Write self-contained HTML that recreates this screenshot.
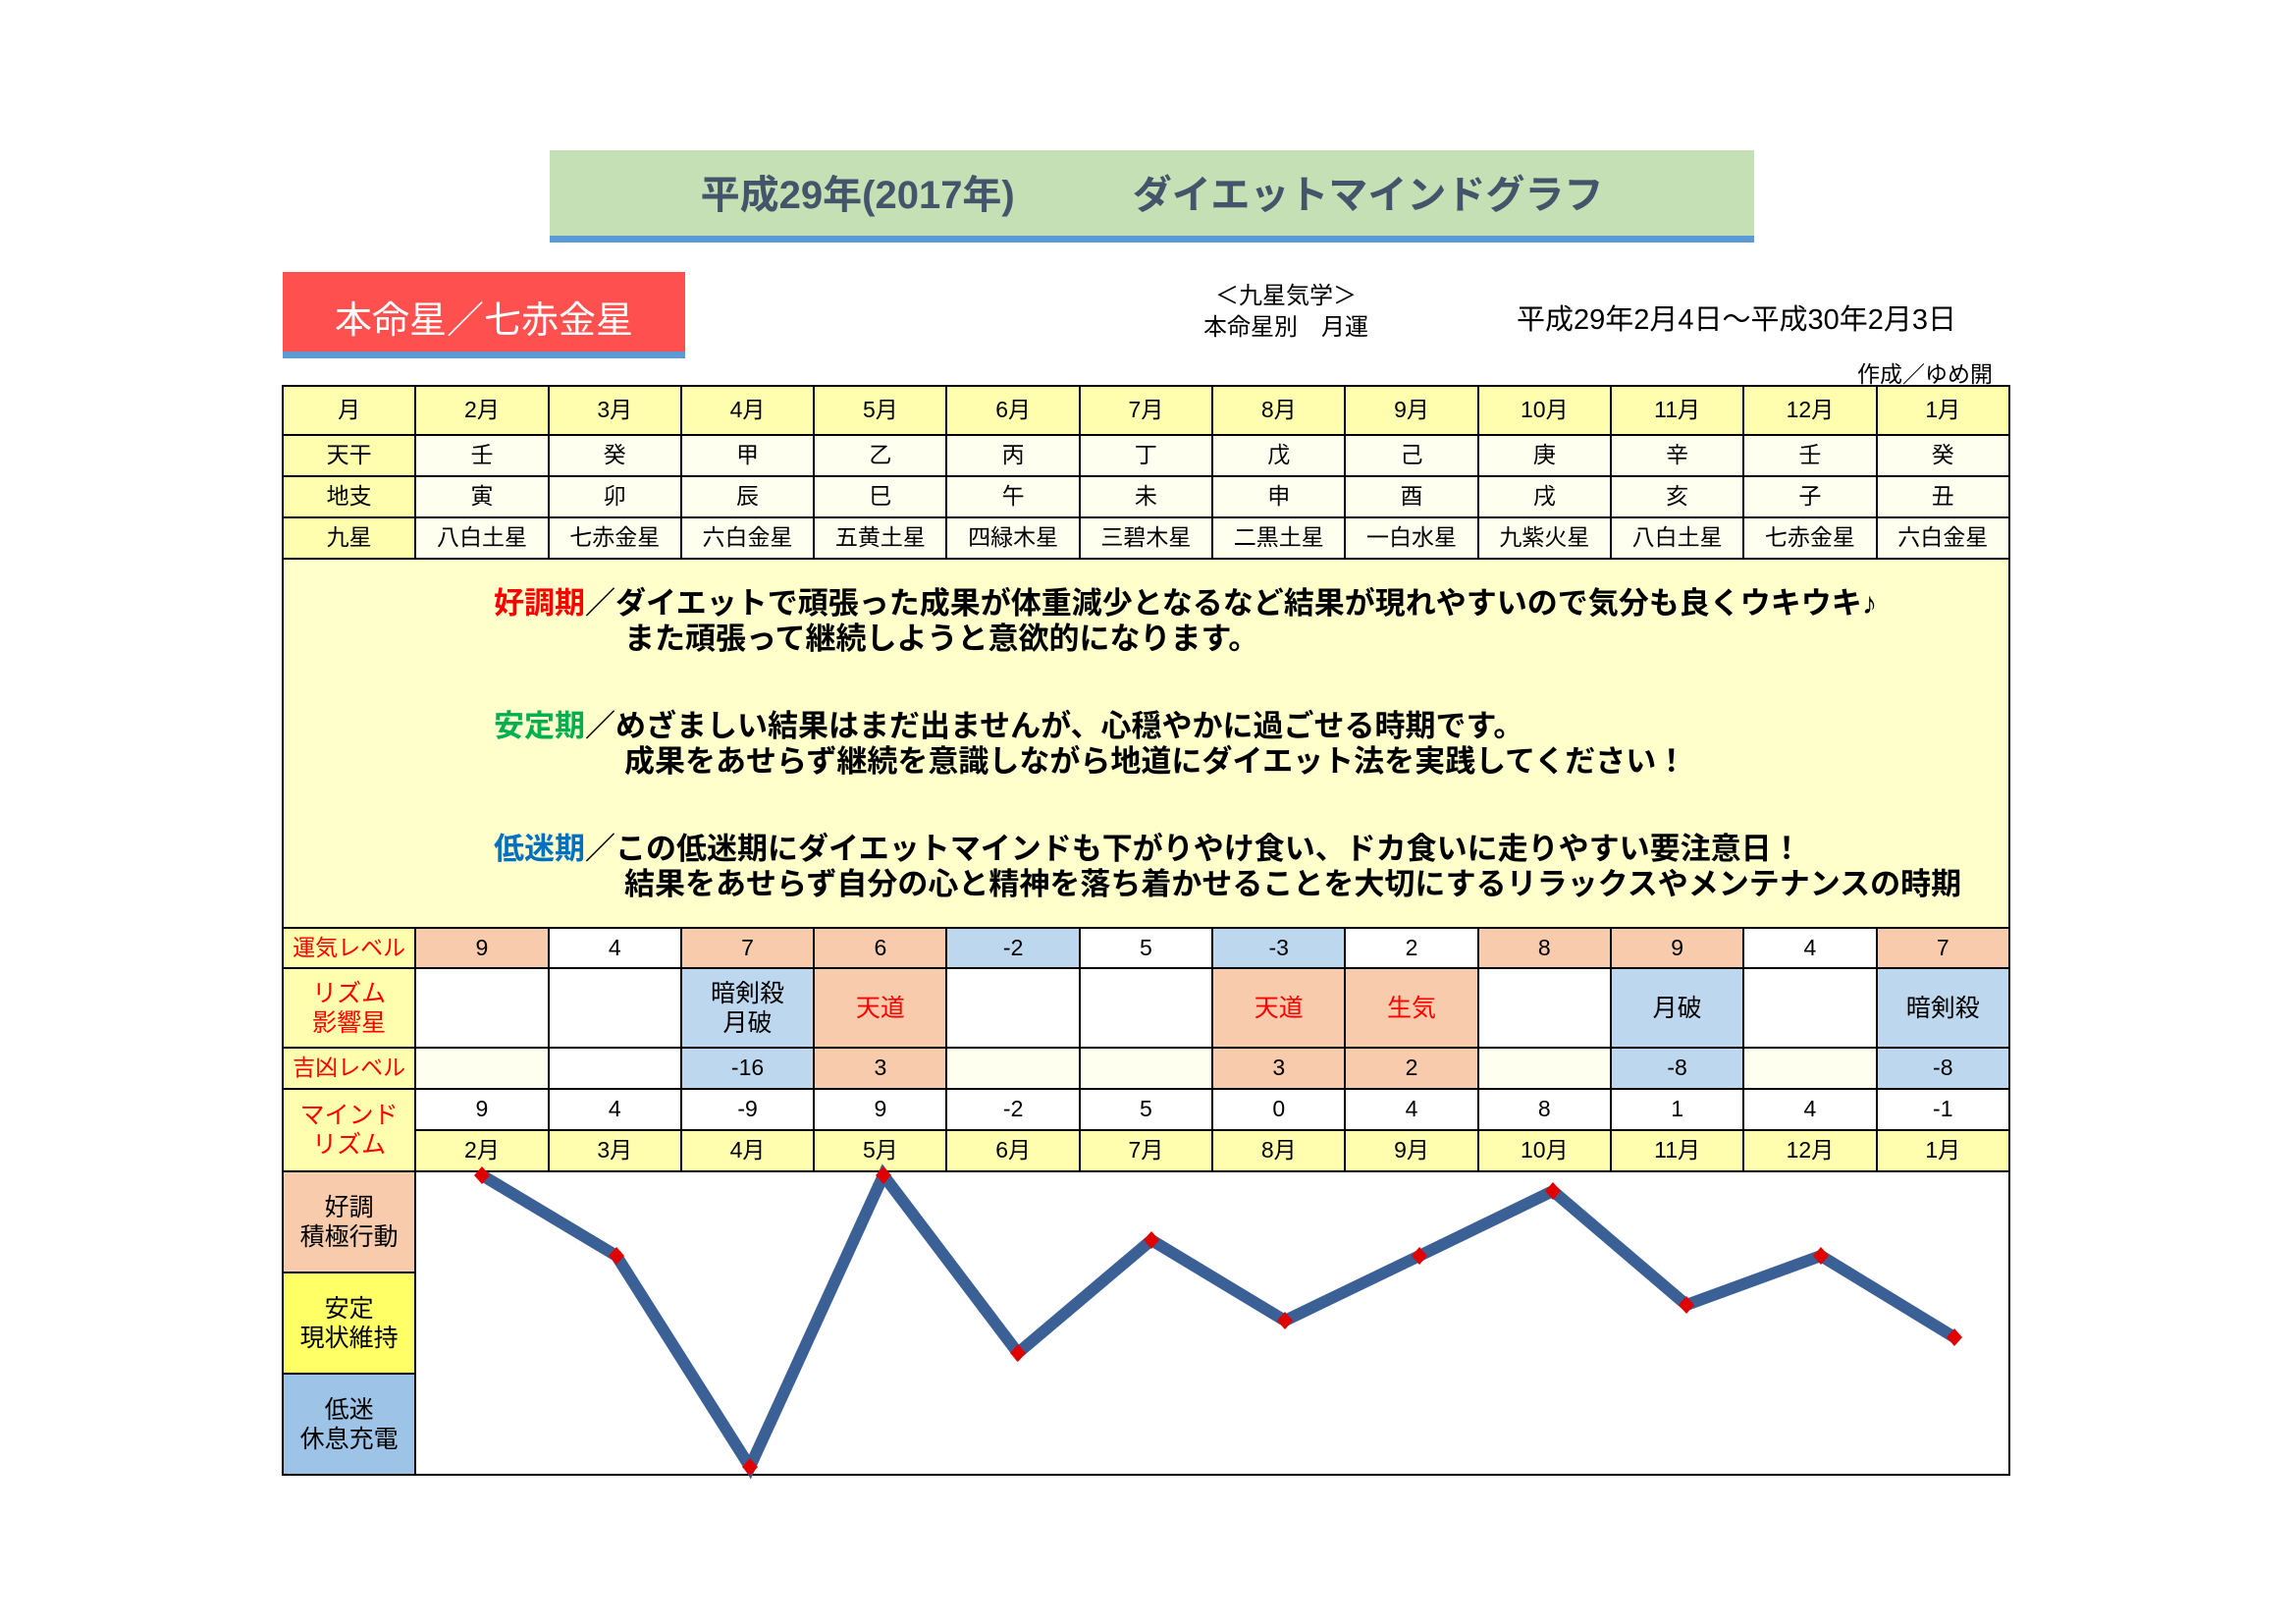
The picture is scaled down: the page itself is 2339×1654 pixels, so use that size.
<!DOCTYPE html>
<html><head><meta charset="utf-8"><style>
body{margin:0;width:2339px;height:1654px;background:#fff;position:relative;overflow:hidden;font-family:"Liberation Sans","Noto Sans CJK JP",sans-serif;}
.a{position:absolute;}
table{position:absolute;left:287px;top:392px;width:1761px;border-collapse:collapse;table-layout:fixed;}
td{border:2px solid #000;text-align:center;font-size:23px;padding:0;line-height:1.2;}
.y{background:#fefeae;}.iv{background:#fffff0;}.p{background:#f8cbad;}.b{background:#bdd7ee;}.w{background:#fff;}
.r{color:#f00;}
.c{font-size:25px;}
.txt{position:absolute;left:503px;font-size:31px;font-weight:bold;white-space:nowrap;line-height:36px;}
</style></head><body>
<div class="a" style="left:560px;top:153px;width:1227px;height:87px;background:#c5e0b4;"></div>
<div class="a" style="left:560px;top:240px;width:1227px;height:7px;background:#5b9bd5;"></div>
<div class="a" style="left:560px;top:166px;width:1227px;text-align:center;font-size:40px;font-weight:bold;color:#44546a;white-space:pre;">平成29年(2017年)　　　ダイエットマインドグラフ</div>
<div class="a" style="left:288px;top:277px;width:410px;height:81px;background:#ff5050;"></div>
<div class="a" style="left:288px;top:358px;width:410px;height:7px;background:#5b9bd5;"></div>
<div class="a" style="left:288px;top:295px;width:410px;text-align:center;font-size:38px;color:#fff;">本命星／七赤金星</div>
<div class="a" style="left:1180px;top:286px;width:260px;text-align:center;font-size:24px;line-height:32px;">＜九星気学＞<br>本命星別　月運</div>
<div class="a" style="left:1545px;top:302px;font-size:29px;white-space:nowrap;">平成29年2月4日～平成30年2月3日</div>
<div class="a" style="left:1860px;top:362px;width:170px;text-align:right;font-size:23px;">作成／ゆめ開</div>
<table>
<tr style="height:50px" class="y"><td>月</td><td>2月</td><td>3月</td><td>4月</td><td>5月</td><td>6月</td><td>7月</td><td>8月</td><td>9月</td><td>10月</td><td>11月</td><td>12月</td><td>1月</td></tr>
<tr style="height:42px" class="iv"><td class="y">天干</td><td>壬</td><td>癸</td><td>甲</td><td>乙</td><td>丙</td><td>丁</td><td>戊</td><td>己</td><td>庚</td><td>辛</td><td>壬</td><td>癸</td></tr>
<tr style="height:42px" class="iv"><td class="y">地支</td><td>寅</td><td>卯</td><td>辰</td><td>巳</td><td>午</td><td>未</td><td>申</td><td>酉</td><td>戌</td><td>亥</td><td>子</td><td>丑</td></tr>
<tr style="height:42px" class="iv"><td class="y">九星</td><td>八白土星</td><td>七赤金星</td><td>六白金星</td><td>五黄土星</td><td>四緑木星</td><td>三碧木星</td><td>二黒土星</td><td>一白水星</td><td>九紫火星</td><td>八白土星</td><td>七赤金星</td><td>六白金星</td></tr>
<tr style="height:376px"><td colspan="13" style="background:#ffffcc;"></td></tr>
<tr style="height:41px"><td class="y r">運気レベル</td><td class="p">9</td><td class="w">4</td><td class="p">7</td><td class="p">6</td><td class="b">-2</td><td class="w">5</td><td class="b">-3</td><td class="w">2</td><td class="p">8</td><td class="p">9</td><td class="w">4</td><td class="p">7</td></tr>
<tr style="height:81px"><td class="y r c">リズム<br>影響星</td><td class="w"></td><td class="w"></td><td class="b c">暗剣殺<br>月破</td><td class="p r c">天道</td><td class="w"></td><td class="w"></td><td class="p r c">天道</td><td class="p r c">生気</td><td class="w"></td><td class="b c">月破</td><td class="w"></td><td class="b c">暗剣殺</td></tr>
<tr style="height:42px"><td class="y r">吉凶レベル</td><td class="iv"></td><td class="w"></td><td class="b">-16</td><td class="p">3</td><td class="iv"></td><td class="iv"></td><td class="p">3</td><td class="p">2</td><td class="iv"></td><td class="b">-8</td><td class="iv"></td><td class="b">-8</td></tr>
<tr style="height:42px" class="w"><td class="y r c" rowspan="2">マインド<br>リズム</td><td>9</td><td>4</td><td>-9</td><td>9</td><td>-2</td><td>5</td><td>0</td><td>4</td><td>8</td><td>1</td><td>4</td><td>-1</td></tr>
<tr style="height:42px" class="y"><td>2月</td><td>3月</td><td>4月</td><td>5月</td><td>6月</td><td>7月</td><td>8月</td><td>9月</td><td>10月</td><td>11月</td><td>12月</td><td>1月</td></tr>
<tr style="height:103px"><td class="p c">好調<br>積極行動</td><td colspan="12" rowspan="3" class="w"></td></tr>
<tr style="height:103px"><td class="c" style="background:#ffff66">安定<br>現状維持</td></tr>
<tr style="height:103px"><td class="c" style="background:#9dc3e6">低迷<br>休息充電</td></tr>
</table>
<div class="txt" style="top:597px;"><span style="color:#f00">好調期</span>／ダイエットで頑張った成果が体重減少となるなど結果が現れやすいので気分も良くウキウキ♪<br><span style="padding-left:133px">また頑張って継続しようと意欲的になります。</span></div>
<div class="txt" style="top:722px;"><span style="color:#00b050">安定期</span>／めざましい結果はまだ出ませんが、心穏やかに過ごせる時期です。<br><span style="padding-left:133px">成果をあせらず継続を意識しながら地道にダイエット法を実践してください！</span></div>
<div class="txt" style="top:847px;"><span style="color:#0070c0">低迷期</span>／この低迷期にダイエットマインドも下がりやけ食い、ドカ食いに走りやすい要注意日！<br><span style="padding-left:133px">結果をあせらず自分の心と精神を落ち着かせることを大切にするリラックスやメンテナンスの時期</span></div>
<svg class="a" style="left:-1px;top:-6px" width="2339" height="1654">
<polyline fill="none" stroke="#3a6096" stroke-width="12" points="492,1203 629,1285 765,1500 901,1203 1038,1384 1174,1269 1310,1351 1447,1285 1583,1219 1719,1335 1856,1285 1992,1368"/>
<g fill="#e00000">
<path d="M492,1194l8,9l-8,9l-8,-9z"/><path d="M629,1276l8,9l-8,9l-8,-9z"/><path d="M765,1491l8,9l-8,9l-8,-9z"/><path d="M901,1194l8,9l-8,9l-8,-9z"/><path d="M1038,1375l8,9l-8,9l-8,-9z"/><path d="M1174,1260l8,9l-8,9l-8,-9z"/><path d="M1310,1342l8,9l-8,9l-8,-9z"/><path d="M1447,1276l8,9l-8,9l-8,-9z"/><path d="M1583,1210l8,9l-8,9l-8,-9z"/><path d="M1719,1326l8,9l-8,9l-8,-9z"/><path d="M1856,1276l8,9l-8,9l-8,-9z"/><path d="M1992,1359l8,9l-8,9l-8,-9z"/>
</g></svg>
</body></html>
